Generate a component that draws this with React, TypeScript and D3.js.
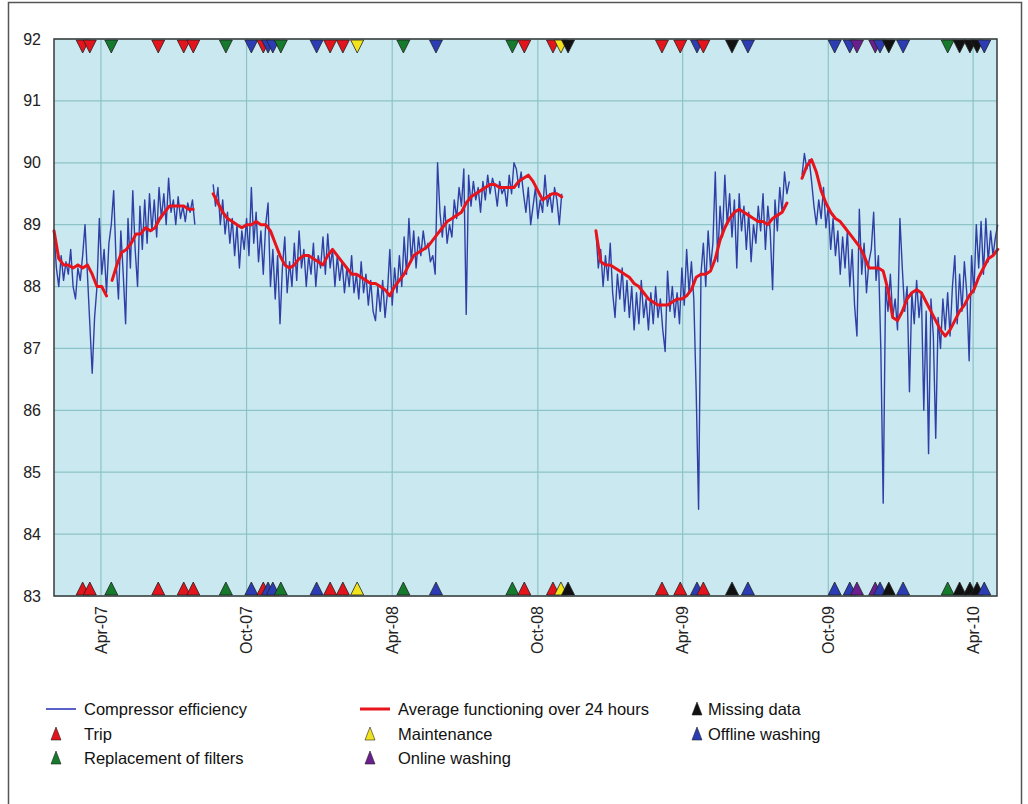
import React from 'react';
import * as d3 from 'd3';

// compressor efficiency, one reading every 3 days, split where data is missing
const effSegments = [
  { start: '2007-02-01', values: [
    88.9, 88.3, 88.0, 88.5, 88.1, 88.4, 88.2, 88.6, 88.0, 87.8, 88.3, 88.1, 88.5, 89.0, 88.2, 87.4, 86.6, 87.5, 88.0, 89.1,
    88.2, 88.6, 87.9, 88.7, 89.0, 89.55, 88.4, 87.8, 88.9, 88.2, 87.4, 89.1, 88.3, 89.55, 88.6, 88.0, 89.3, 88.6, 89.4, 88.7,
    89.5, 88.9, 89.4, 88.8, 89.6, 89.1, 89.5, 89.0, 89.75, 89.2, 89.4, 89.0, 89.45, 89.1, 89.3, 89.05, 89.35, 89.2, 89.4, 89.0,
  ] },
  { start: '2007-08-20', values: [
    89.65, 89.3, 89.6, 89.0, 89.4, 88.85, 89.2, 88.7, 89.1, 88.5, 89.0, 88.3, 88.9, 88.6, 89.1, 88.5, 89.6, 88.7, 89.2, 88.4,
    88.9, 88.2, 89.0, 89.35, 88.0, 88.6, 87.8, 88.5, 87.4, 88.3, 88.8, 87.9, 88.4, 88.0, 88.7, 88.1, 88.9, 88.3, 88.6, 88.0,
    88.5, 88.2, 88.7, 88.0, 88.5, 88.3, 88.8, 88.2, 88.85, 88.3, 88.6, 88.0, 88.5, 88.1, 88.4, 87.9, 88.3, 88.0, 88.5, 87.9,
    88.2, 87.8, 88.4, 87.9, 88.2, 87.7, 88.1, 87.6, 87.45, 88.0, 87.6, 88.1, 87.5, 87.9, 88.6, 87.7, 88.3, 87.9, 88.5, 88.0,
    88.8, 88.2, 89.1, 88.4, 88.9, 88.3, 88.8, 88.5, 88.9, 88.6, 88.7, 88.4, 88.5, 88.2, 90.0, 89.2, 88.8, 89.3, 88.7, 89.0,
    88.8, 89.4, 89.1, 89.6, 89.3, 89.9, 87.55, 89.8, 89.3, 89.7, 89.4, 89.6, 89.2, 89.7, 89.4, 89.8, 89.5, 89.75, 89.6, 89.3,
    89.7, 89.5, 89.6, 89.3, 89.8, 89.5, 90.0, 89.9, 89.6, 89.85, 89.5, 89.2, 89.6, 89.0, 89.3, 89.6, 89.1, 89.4, 89.2, 89.8,
    89.3, 89.5, 89.2, 89.6, 89.4, 89.0, 89.5,
  ] },
  { start: '2008-12-13', values: [
    88.9, 88.3, 88.6, 88.0, 88.5, 88.1, 88.7, 87.9, 87.5, 88.2, 87.8, 88.3, 87.6, 88.1, 87.5, 88.0, 87.3, 87.9, 87.4, 88.1,
    87.5, 87.8, 87.3, 87.9, 87.4, 88.0, 87.5, 87.8, 87.3, 86.95, 88.25, 87.6, 88.0, 87.5, 87.9, 87.4, 88.3, 87.7, 88.6, 87.9,
    88.4, 87.8, 86.3, 84.4, 88.2, 88.7, 88.0, 88.9, 88.3, 88.7, 89.85, 88.4, 89.3, 88.8, 89.8, 89.0, 89.5, 88.8, 89.4, 88.3,
    89.5, 88.9, 89.3, 88.6, 89.2, 88.4, 89.0, 88.7, 89.3, 88.9, 89.5, 88.6, 89.3, 88.9, 87.95, 89.4, 88.9, 89.6, 89.2, 89.85,
    89.5, 89.7,
  ] },
  { start: '2009-08-29', values: [
    89.8, 90.15, 89.9, 90.05, 89.7, 89.3, 89.0, 89.4, 89.1, 89.6, 88.95, 89.3, 88.6, 89.1, 88.5, 88.9, 88.2, 88.8, 88.3, 88.9,
    88.0, 88.6, 87.7, 87.2, 89.25, 88.2, 88.7, 87.9, 88.4, 88.6, 89.2, 88.1, 88.5, 87.0, 84.5, 88.0, 87.6, 88.2, 87.5, 87.8,
    87.3, 89.1, 88.3, 87.6, 88.0, 86.3, 87.9, 87.4, 88.1, 87.5, 87.9, 86.0, 87.6, 85.3, 87.8, 87.2, 85.55, 87.5, 87.0, 87.8,
    87.3, 87.9, 87.2, 88.0, 88.5, 87.4, 88.2, 87.6, 88.4, 87.9, 86.8, 88.5, 87.9, 89.0, 88.3, 89.05, 88.2, 89.1, 88.4, 88.9,
    88.5, 88.8, 89.0,
  ] },
];

// average functioning over 24 hours, one value every 6 days
const avgSegments = [
  { start: '2007-02-01', values: [88.9, 88.45, 88.35, 88.35, 88.3, 88.35, 88.3, 88.35, 88.2, 88.0, 88.0, 87.85] },
  { start: '2007-04-15', values: [
    88.1, 88.35, 88.55, 88.6, 88.7, 88.85, 88.85, 88.95, 88.9, 88.95, 89.1, 89.2, 89.3, 89.3, 89.3, 89.3, 89.25, 89.25,
  ] },
  { start: '2007-08-20', values: [
    89.5, 89.35, 89.2, 89.1, 89.05, 89.0, 88.95, 89.0, 89.0, 89.05, 89.0, 89.0, 88.9, 88.7, 88.5, 88.35, 88.3, 88.35,
    88.45, 88.5, 88.5, 88.45, 88.4, 88.35, 88.5, 88.6, 88.5, 88.4, 88.3, 88.2, 88.2, 88.15, 88.1, 88.05, 88.05, 88.0,
    87.95, 87.85, 88.0, 88.1, 88.2, 88.35, 88.5, 88.55, 88.6, 88.65, 88.75, 88.85, 88.95, 89.05, 89.1, 89.15, 89.2,
    89.35, 89.45, 89.5, 89.55, 89.6, 89.65, 89.65, 89.6, 89.6, 89.6, 89.6, 89.7, 89.75, 89.8, 89.7, 89.55, 89.4, 89.45,
    89.5, 89.5, 89.45,
  ] },
  { start: '2008-12-13', values: [
    88.9, 88.4, 88.35, 88.35, 88.3, 88.25, 88.2, 88.15, 88.05, 88.0, 87.9, 87.8, 87.75, 87.7, 87.7, 87.7, 87.75, 87.8,
    87.8, 87.85, 87.95, 88.15, 88.2, 88.2, 88.25, 88.45, 88.75, 88.95, 89.1, 89.2, 89.25, 89.2, 89.15, 89.1, 89.05,
    89.05, 89.0, 89.1, 89.15, 89.2, 89.35,
  ] },
  { start: '2009-08-29', values: [
    89.75, 89.95, 90.05, 89.85, 89.55, 89.35, 89.2, 89.1, 89.05, 88.95, 88.85, 88.75, 88.65, 88.5, 88.3, 88.3, 88.3,
    88.25, 87.95, 87.5, 87.45, 87.6, 87.8, 87.9, 87.95, 87.9, 87.75, 87.6, 87.45, 87.3, 87.2, 87.3, 87.45, 87.6, 87.7,
    87.85, 87.95, 88.15, 88.3, 88.45, 88.5, 88.6,
  ] },
];

const eventDates = [
  '2007-03-09', '2007-03-18', '2007-04-14', '2007-06-12', '2007-07-14', '2007-07-26', '2007-09-05', '2007-10-07',
  '2007-10-22', '2007-10-28', '2007-11-03', '2007-11-13', '2007-12-28', '2008-01-14', '2008-01-30', '2008-02-17',
  '2008-04-15', '2008-05-26', '2008-08-30', '2008-09-14', '2008-10-20', '2008-10-30', '2008-11-08', '2009-03-06',
  '2009-03-29', '2009-04-19', '2009-04-27', '2009-06-02', '2009-06-22', '2009-10-09', '2009-10-28', '2009-11-06',
  '2009-11-29', '2009-12-05', '2009-12-16', '2010-01-03', '2010-02-28', '2010-03-15', '2010-03-28', '2010-04-06',
  '2010-04-15',
];
const eventTypes = [
  'trip', 'trip', 'filters', 'trip', 'trip', 'trip', 'filters', 'offline',
  'trip', 'offline', 'offline', 'filters', 'offline', 'trip', 'trip', 'maintenance',
  'filters', 'offline', 'filters', 'trip', 'trip', 'maintenance', 'missing', 'trip',
  'trip', 'offline', 'trip', 'missing', 'offline', 'offline', 'offline', 'online',
  'online', 'offline', 'missing', 'offline', 'filters', 'missing', 'missing', 'missing',
  'offline',
];

const tickDates = ['2007-04-01', '2007-10-01', '2008-04-01', '2008-10-01', '2009-04-01', '2009-10-01', '2010-04-01'];
const yTicks = [83, 84, 85, 86, 87, 88, 89, 90, 91, 92];

const markerColors = {
  trip: '#e3141b',
  filters: '#157a2c',
  maintenance: '#f2e41c',
  online: '#6b1f8f',
  missing: '#111111',
  offline: '#2b3cb4',
};

const legendItems = [
  { label: 'Compressor efficiency', kind: 'blue', col: 0, row: 0 },
  { label: 'Trip', kind: 'trip', col: 0, row: 1 },
  { label: 'Replacement of filters', kind: 'filters', col: 0, row: 2 },
  { label: 'Average functioning over 24 hours', kind: 'red', col: 1, row: 0 },
  { label: 'Maintenance', kind: 'maintenance', col: 1, row: 1 },
  { label: 'Online washing', kind: 'online', col: 1, row: 2 },
  { label: 'Missing data', kind: 'missing', col: 2, row: 0 },
  { label: 'Offline washing', kind: 'offline', col: 2, row: 1 },
];

const parse = d3.utcParse('%Y-%m-%d');
const fmt = d3.utcFormat('%b-%y');

function toPoints(seg, step) {
  const s = parse(seg.start);
  return seg.values.map((v, i) => ({ date: d3.utcDay.offset(s, i * step), value: v }));
}

const FONT = '"Liberation Sans", Arial, Helvetica, sans-serif';

export default function App() {
  const W = 1028, H = 804;
  const left = 54, right = 997, top = 39, bottom = 596;

  const x = d3.scaleUtc().domain([parse('2007-02-01'), parse('2010-05-01')]).range([left, right]);
  const y = d3.scaleLinear().domain([83, 92]).range([bottom, top]);

  const line = d3.line().x(d => x(d.date)).y(d => y(d.value));

  const tri = (cx, base, dir, w, h) =>
    `M${cx - w / 2},${base} L${cx + w / 2},${base} L${cx},${base + dir * h} Z`;

  const legX = [46, 360, 690];
  const legY = [709, 734, 758];

  return (
    <div style={{ position: 'absolute', left: 0, top: 0 }}>
      <svg width={W} height={H} style={{ display: 'block', background: '#fff' }}>
        <rect x={8.5} y={2.5} width={1013} height={820} fill="none" stroke="#555" strokeWidth={1.5} />

        <rect x={left} y={top} width={right - left} height={bottom - top} fill="#cae8f0" />

        {yTicks.map(t => (
          <line key={'gy' + t} x1={left} x2={right} y1={y(t)} y2={y(t)} stroke="#8cc3c6" strokeWidth={1.2} />
        ))}
        {tickDates.map(t => (
          <line key={'gx' + t} x1={x(parse(t))} x2={x(parse(t))} y1={top} y2={bottom} stroke="#8cc3c6" strokeWidth={1.2} />
        ))}

        {effSegments.map((seg, i) => (
          <path key={'e' + i} d={line(toPoints(seg, 3))} fill="none" stroke="#2f3fa6" strokeWidth={1.4} strokeLinejoin="round" />
        ))}
        {avgSegments.map((seg, i) => (
          <path key={'a' + i} d={line(toPoints(seg, 6))} fill="none" stroke="#e8141c" strokeWidth={3} strokeLinejoin="round" strokeLinecap="round" />
        ))}

        {eventDates.map((d, i) => {
          const cx = x(parse(d));
          const c = markerColors[eventTypes[i]];
          return (
            <g key={'m' + i}>
              <path d={tri(cx, top + 1, 1, 13, 13)} fill={c} stroke="#222" strokeWidth={0.8} />
              <path d={tri(cx, bottom - 1, -1, 13, 13)} fill={c} stroke="#222" strokeWidth={0.8} />
            </g>
          );
        })}

        <rect x={left} y={top} width={right - left} height={bottom - top} fill="none" stroke="#3a3a3a" strokeWidth={1.5} />

        {yTicks.map(t => (
          <text key={'ty' + t} x={41} y={y(t)} dy="0.35em" textAnchor="end" fontFamily={FONT} fontSize={16} fill="#222">{t}</text>
        ))}
        {tickDates.map(t => (
          <text key={'tx' + t} transform={`translate(${x(parse(t))},${bottom + 10}) rotate(-90)`} dy="0.35em" textAnchor="end"
            fontFamily={FONT} fontSize={16} fill="#222">{fmt(parse(t))}</text>
        ))}

        {legendItems.map(it => {
          const lx = legX[it.col], ly = legY[it.row];
          let sym;
          if (it.kind === 'blue') sym = <line x1={lx} x2={lx + 30} y1={ly} y2={ly} stroke="#5a62c8" strokeWidth={2} />;
          else if (it.kind === 'red') sym = <line x1={lx} x2={lx + 30} y1={ly} y2={ly} stroke="#e8141c" strokeWidth={3} />;
          else {
            const cx = it.col === 2 ? lx + 7 : lx + 10;
            sym = <path d={tri(cx, ly + 6, -1, 10, 13)} fill={markerColors[it.kind]} stroke="#222" strokeWidth={0.6} />;
          }
          const tx = it.col === 2 ? lx + 18 : lx + 38;
          return (
            <g key={it.label}>
              {sym}
              <text x={tx} y={ly} dy="0.35em" fontFamily={FONT} fontSize={16.5} fill="#111">{it.label}</text>
            </g>
          );
        })}
      </svg>
    </div>
  );
}
